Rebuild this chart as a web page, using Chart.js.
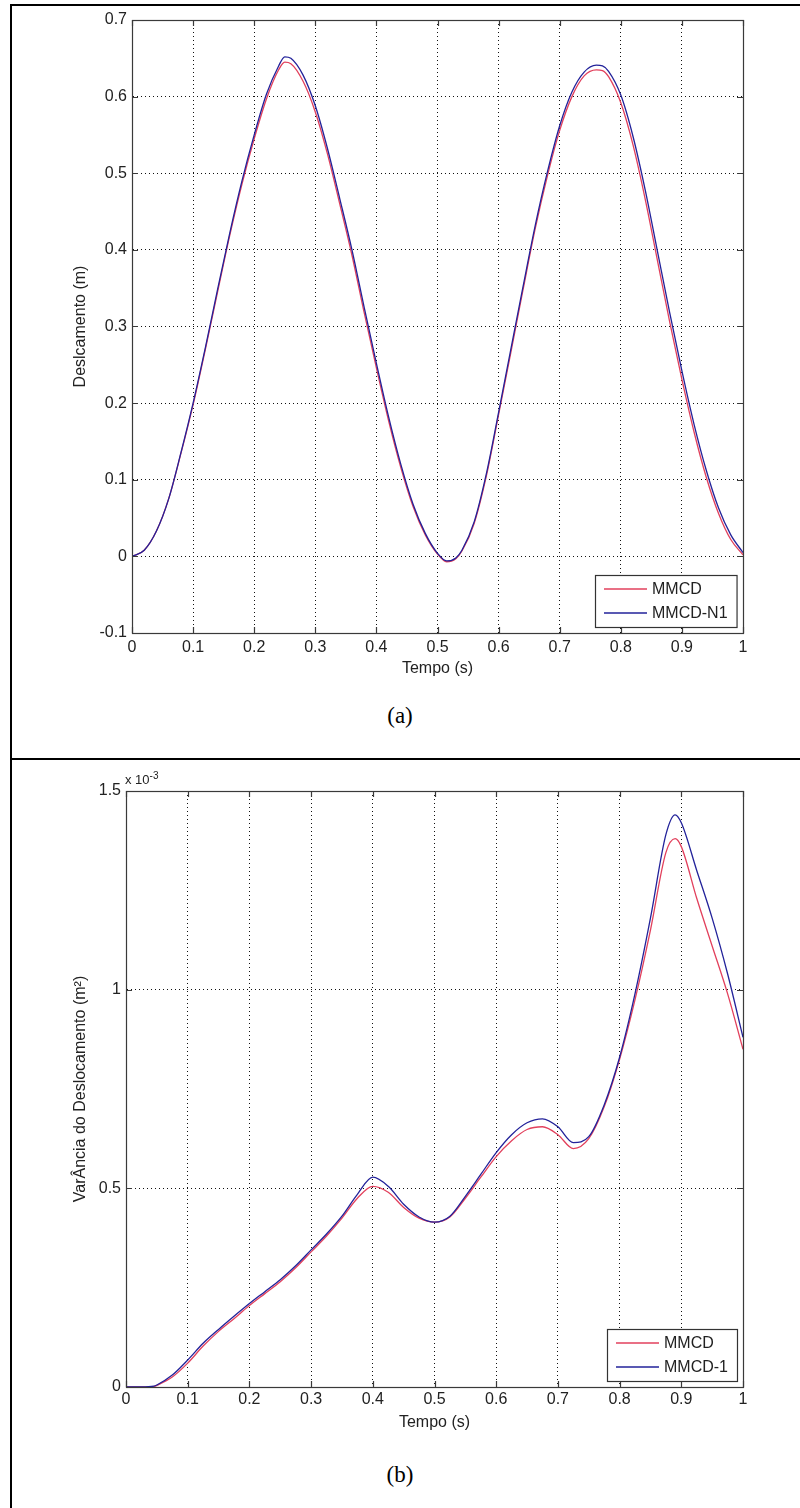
<!DOCTYPE html>
<html><head><meta charset="utf-8">
<script src="https://cdn.jsdelivr.net/npm/chart.js@4.4.1/dist/chart.umd.min.js"></script>
<style>
html,body{margin:0;padding:0;background:#fff;}
body{width:800px;height:1508px;position:relative;overflow:hidden;font-family:'Liberation Sans',Arial,sans-serif;}
.ln{position:absolute;background:#000;}
.wrap{position:absolute;left:0;width:800px;height:700px;}
.cap{position:absolute;left:0;width:800px;text-align:center;font-family:'Liberation Serif','Times New Roman',serif;font-size:23px;color:#000;line-height:28px;}
.expo{position:absolute;left:125px;top:770px;font-size:13px;color:#222;}
.expo sup{font-size:10px;}
</style></head><body>
<div class="ln" style="left:10px;top:4px;width:790px;height:2px"></div>
<div class="ln" style="left:10px;top:4px;width:2px;height:1504px"></div>
<div class="ln" style="left:10px;top:758px;width:790px;height:2px"></div>
<div class="wrap" style="top:0"><canvas id="c1" width="800" height="700"></canvas></div>
<div class="cap" style="top:702px">(a)</div>
<div class="wrap" style="top:760px"><canvas id="c2" width="800" height="700"></canvas></div>
<div class="expo">x 10<sup>-3</sup></div>
<div class="cap" style="top:1461px">(b)</div>
<script>
// ---------- Data: chart (a) displacement ----------
const timeA = [0,0.02,0.04,0.06,0.08,0.10,0.12,0.14,0.16,0.18,0.20,0.22,0.24,0.25,0.26,0.28,0.30,0.32,0.34,0.36,0.38,0.40,0.42,0.44,0.46,0.48,0.50,0.515,0.53,0.54,0.56,0.58,0.60,0.62,0.64,0.66,0.68,0.70,0.72,0.74,0.76,0.77,0.78,0.80,0.82,0.84,0.86,0.88,0.90,0.92,0.94,0.96,0.98,1.00];
const deslMMCD = [0.000,0.008,0.033,0.075,0.134,0.198,0.270,0.345,0.419,0.486,0.545,0.597,0.635,0.645,0.643,0.620,0.580,0.525,0.460,0.393,0.318,0.246,0.177,0.116,0.065,0.028,0.003,-0.007,-0.003,0.007,0.043,0.105,0.185,0.266,0.348,0.428,0.497,0.556,0.600,0.627,0.635,0.634,0.626,0.592,0.537,0.466,0.386,0.306,0.231,0.162,0.103,0.056,0.022,0.002];
const deslN1   = [0.000,0.008,0.033,0.075,0.135,0.200,0.272,0.348,0.422,0.490,0.550,0.603,0.640,0.652,0.650,0.628,0.588,0.532,0.467,0.400,0.325,0.252,0.182,0.120,0.068,0.030,0.004,-0.006,-0.002,0.008,0.045,0.108,0.188,0.270,0.352,0.432,0.502,0.562,0.606,0.632,0.641,0.640,0.633,0.602,0.548,0.478,0.398,0.318,0.242,0.172,0.112,0.063,0.028,0.005];
const ticksA_x = [0,0.1,0.2,0.3,0.4,0.5,0.6,0.7,0.8,0.9,1];
const ticksA_y = [-0.1,0,0.1,0.2,0.3,0.4,0.5,0.6,0.7];

// ---------- Data: chart (b) variance (x 10^-3) ----------
const timeB = [0,0.025,0.045,0.05,0.075,0.1,0.125,0.15,0.175,0.2,0.225,0.25,0.275,0.3,0.325,0.35,0.375,0.4,0.425,0.45,0.475,0.5,0.525,0.55,0.575,0.6,0.625,0.65,0.675,0.7,0.725,0.75,0.775,0.8,0.825,0.85,0.875,0.89,0.9,0.925,0.95,0.975,1.0];
const varMMCD = [0,0,0.001,0.004,0.025,0.060,0.103,0.140,0.172,0.205,0.235,0.265,0.300,0.340,0.380,0.425,0.475,0.505,0.490,0.452,0.425,0.415,0.428,0.475,0.528,0.580,0.620,0.648,0.655,0.635,0.600,0.625,0.705,0.825,0.975,1.150,1.345,1.380,1.360,1.230,1.110,0.990,0.850];
const varMMCD1 = [0,0,0.002,0.005,0.030,0.068,0.110,0.145,0.178,0.210,0.240,0.270,0.305,0.345,0.385,0.430,0.485,0.528,0.505,0.460,0.428,0.415,0.430,0.480,0.535,0.590,0.635,0.665,0.675,0.655,0.615,0.630,0.710,0.830,0.990,1.180,1.390,1.440,1.420,1.300,1.180,1.040,0.880];
const ticksB_y = [0,0.5,1,1.5];

const RED = '#e2405c';
const BLUE = '#22229a';
const FONT = "'Liberation Sans', Arial, sans-serif";
Chart.defaults.font.family = FONT;
Chart.defaults.font.size = 16;
Chart.defaults.color = '#222';

function pts(xs, ys){ return xs.map((x,i)=>({x:x, y:ys[i]})); }

const matlabPlugin = {
  id: 'matlab',
  afterDatasetsDraw(chart){
    const ctx = chart.ctx, ca = chart.chartArea;
    const xs = chart.scales.x, ys = chart.scales.y;
    ctx.save();
    ctx.setLineDash([]);
    ctx.strokeStyle = '#3a3a3a';
    ctx.lineWidth = 1.2;
    ctx.strokeRect(Math.round(ca.left)+0.5, Math.round(ca.top)+0.5, Math.round(ca.right-ca.left), Math.round(ca.bottom-ca.top));
    const L = 6;
    ctx.beginPath();
    xs.ticks.forEach(t=>{
      const px = Math.round(xs.getPixelForValue(t.value))+0.5;
      ctx.moveTo(px, ca.bottom); ctx.lineTo(px, ca.bottom-L);
      ctx.moveTo(px, ca.top); ctx.lineTo(px, ca.top+L);
    });
    ys.ticks.forEach(t=>{
      const py = Math.round(ys.getPixelForValue(t.value))+0.5;
      ctx.moveTo(ca.left, py); ctx.lineTo(ca.left+L, py);
      ctx.moveTo(ca.right, py); ctx.lineTo(ca.right-L, py);
    });
    ctx.stroke();
    // legend box (bottom-right inside axes)
    const items = chart.data.datasets.map(d=>({label:d.label, color:d.borderColor}));
    ctx.font = '16px ' + FONT;
    const tw = Math.max(...items.map(i=>ctx.measureText(i.label).width));
    const w = 9 + 43 + 5 + tw + 9, h = 52;
    const x1 = Math.round(ca.right - 6 - w), y1 = Math.round(ca.bottom - 6 - h);
    ctx.fillStyle = '#fff';
    ctx.fillRect(x1, y1, w, h);
    ctx.strokeStyle = '#333'; ctx.lineWidth = 1.2;
    ctx.strokeRect(x1+0.5, y1+0.5, w, h);
    items.forEach((it, i)=>{
      const cy = y1 + 14 + i*24;
      ctx.strokeStyle = it.color; ctx.lineWidth = 1.3;
      ctx.beginPath(); ctx.moveTo(x1+9, cy); ctx.lineTo(x1+52, cy); ctx.stroke();
      ctx.fillStyle = '#222'; ctx.textBaseline = 'middle'; ctx.textAlign = 'left';
      ctx.fillText(it.label, x1+57, cy+1);
    });
    ctx.restore();
  }
};

function makeOptions(cfg){
  return {
    responsive: false,
    animation: false,
    events: [],
    layout: { padding: { top: cfg.padTop, right: 57, bottom: cfg.padBottom, left: 0 } },
    plugins: { legend: { display: false }, tooltip: { enabled: false } },
    elements: { point: { radius: 0 }, line: { borderWidth: 1.3, cubicInterpolationMode: 'monotone' } },
    scales: {
      x: {
        type: 'linear', min: 0, max: 1,
        afterBuildTicks: s => { s.ticks = cfg.xTicks.map(v=>({value:v})); },
        afterFit: s => { s.height = 50; },
        ticks: { padding: cfg.xPad, maxRotation: 0, autoSkip: false,
                 callback: v => String(+v.toFixed(1)) },
        grid: { drawTicks: false, color: '#111', lineWidth: 1 },
        border: { display: true, color: '#3a3a3a', width: 1, dash: [1, 3] },
        title: { display: true, text: 'Tempo (s)', padding: { top: 0, bottom: 5 }, font: { size: 16 } }
      },
      y: {
        type: 'linear', min: cfg.yMin, max: cfg.yMax,
        afterBuildTicks: s => { s.ticks = cfg.yTicks.map(v=>({value:v})); },
        afterFit: s => { s.width = cfg.left; },
        ticks: { padding: 5, autoSkip: false,
                 callback: v => String(+v.toFixed(1)) },
        grid: { drawTicks: false, color: '#111', lineWidth: 1 },
        border: { display: true, color: '#3a3a3a', width: 1, dash: [1, 3] },
        title: { display: true, text: cfg.yTitle, padding: { top: 71, bottom: 0 }, font: { size: 16 } }
      }
    }
  };
}

new Chart(document.getElementById('c1'), {
  type: 'line',
  data: { datasets: [
    { label: 'MMCD', data: pts(timeA, deslMMCD), borderColor: RED, backgroundColor: RED, order: 2 },
    { label: 'MMCD-N1', data: pts(timeA, deslN1), borderColor: BLUE, backgroundColor: BLUE, order: 1 }
  ]},
  options: makeOptions({ padTop: 20, padBottom: 17, left: 132, xPad: 5, yMin: -0.1, yMax: 0.7,
    xTicks: ticksA_x, yTicks: ticksA_y, yTitle: 'Deslcamento (m)' }),
  plugins: [matlabPlugin]
});

new Chart(document.getElementById('c2'), {
  type: 'line',
  data: { datasets: [
    { label: 'MMCD', data: pts(timeB, varMMCD), borderColor: RED, backgroundColor: RED, order: 2 },
    { label: 'MMCD-1', data: pts(timeB, varMMCD1), borderColor: BLUE, backgroundColor: BLUE, order: 1 }
  ]},
  options: makeOptions({ padTop: 31, padBottom: 23, left: 126, xPad: 3, yMin: 0, yMax: 1.5,
    xTicks: ticksA_x, yTicks: ticksB_y, yTitle: 'VarÂncia do Deslocamento (m²)' }),
  plugins: [matlabPlugin]
});
</script>
</body></html>
